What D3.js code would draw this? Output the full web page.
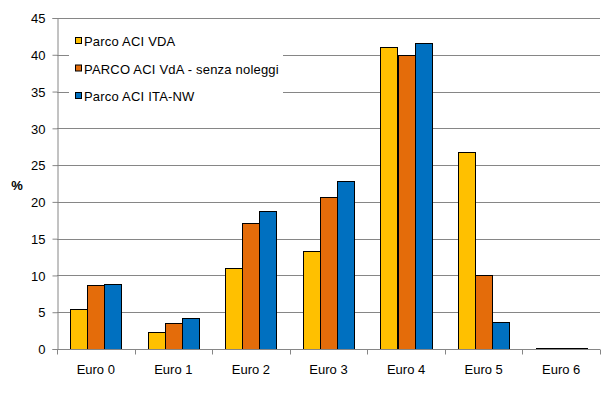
<!DOCTYPE html>
<html>
<head>
<meta charset="utf-8">
<script src="https://cdn.jsdelivr.net/npm/d3@7"></script>
<style>
  body { margin: 0; background: #fff; }
  text { font-family: "Liberation Sans", Arial, sans-serif; font-size: 13px; fill: #000; }
  .row text { letter-spacing: 0.2px; }
</style>
</head>
<body>
<svg id="chart" width="614" height="397"></svg>
<script>
const categories = ["Euro 0", "Euro 1", "Euro 2", "Euro 3", "Euro 4", "Euro 5", "Euro 6"];
const seriesNames = ["Parco ACI VDA", "PARCO ACI VdA - senza noleggi", "Parco ACI ITA-NW"];
const vdaValues = [5.5, 2.3, 11.0, 13.3, 41.0, 26.8, 0.1];
const vdaNoRentValues = [8.7, 3.5, 17.1, 20.7, 40.0, 10.1, 0.1];
const itaNwValues = [8.8, 4.2, 18.8, 22.8, 41.6, 3.7, 0.1];
const yTicks = [0, 5, 10, 15, 20, 25, 30, 35, 40, 45];
const colors = ["#FFC000", "#E46C0A", "#0070C0"];

const series = [vdaValues, vdaNoRentValues, itaNwValues];
const svg = d3.select("#chart");
const margin = { left: 57, right: 14, top: 18, bottom: 48 };
const width = 614, height = 397;

const x = d3.scaleBand()
  .domain(categories)
  .range([margin.left, width - margin.right])
  .paddingInner(0)
  .paddingOuter(0);

const xInner = d3.scaleBand()
  .domain(d3.range(series.length))
  .range([0, x.bandwidth() * 0.66]);

const y = d3.scaleLinear()
  .domain([0, 45])
  .range([height - margin.bottom, margin.top]);

// gridlines
svg.append("g")
  .selectAll("line")
  .data(yTicks.filter(d => d > 0))
  .join("line")
  .attr("x1", margin.left)
  .attr("x2", width - margin.right)
  .attr("y1", d => Math.round(y(d)) + 0.5)
  .attr("y2", d => Math.round(y(d)) + 0.5)
  .attr("stroke", "#868686");

// bars
const offset = (x.bandwidth() - x.bandwidth() * 0.66) / 2;
svg.append("g")
  .selectAll("g")
  .data(series)
  .join("g")
  .attr("fill", (d, i) => colors[i])
  .each(function (vals, si) {
    d3.select(this).selectAll("rect")
      .data(vals)
      .join("rect")
      .attr("x", (d, i) => Math.round(x(categories[i]) + offset + xInner(si)) + 0.5)
      .attr("y", d => Math.round(y(d)) + 0.5)
      .attr("width", Math.round(xInner.bandwidth()))
      .attr("height", d => Math.max(0, Math.round(y(0)) - Math.round(y(d))))
      .attr("stroke", "#000")
      .attr("stroke-width", 1);
  });

// y axis
const yAxis = svg.append("g")
  .attr("transform", `translate(${margin.left + 0.5},0)`)
  .call(d3.axisLeft(y).tickValues(yTicks).tickSize(5).tickPadding(7));
yAxis.select(".domain").attr("stroke", "#868686");
yAxis.selectAll(".tick line").attr("stroke", "#868686");
yAxis.selectAll(".tick text").attr("dy", "0.36em");

// x axis
const xAxisG = svg.append("g")
  .attr("transform", `translate(0,${Math.round(y(0)) + 0.5})`);
xAxisG.append("line")
  .attr("x1", margin.left)
  .attr("x2", width - margin.right)
  .attr("stroke", "#868686");
xAxisG.selectAll("line.tick")
  .data(categories.concat([null]))
  .join("line")
  .attr("class", "tick")
  .attr("x1", (d, i) => Math.round(margin.left + i * x.bandwidth()) + 0.5)
  .attr("x2", (d, i) => Math.round(margin.left + i * x.bandwidth()) + 0.5)
  .attr("y1", 0)
  .attr("y2", 5)
  .attr("stroke", "#868686");
xAxisG.selectAll("text")
  .data(categories)
  .join("text")
  .attr("x", d => x(d) + x.bandwidth() / 2)
  .attr("y", 24)
  .attr("text-anchor", "middle")
  .text(d => d);

// y label
svg.append("text")
  .attr("x", 17)
  .attr("y", 190)
  .attr("text-anchor", "middle")
  .style("font-weight", "bold")
  .text("%");

// legend
const legend = svg.append("g");
legend.append("rect")
  .attr("x", 69)
  .attr("y", 27)
  .attr("width", 214)
  .attr("height", 80)
  .attr("fill", "#fff");
const rows = legend.selectAll("g.row")
  .data(seriesNames)
  .join("g")
  .attr("class", "row")
  .attr("transform", (d, i) => `translate(75,${41 + i * 27.5})`);
rows.append("rect")
  .attr("x", 0.5)
  .attr("y", -3.5)
  .attr("width", 6)
  .attr("height", 6)
  .attr("fill", (d, i) => colors[i])
  .attr("stroke", "#000");
rows.append("text")
  .attr("x", 9)
  .attr("y", 5)
  .text(d => d);
</script>
</body>
</html>
